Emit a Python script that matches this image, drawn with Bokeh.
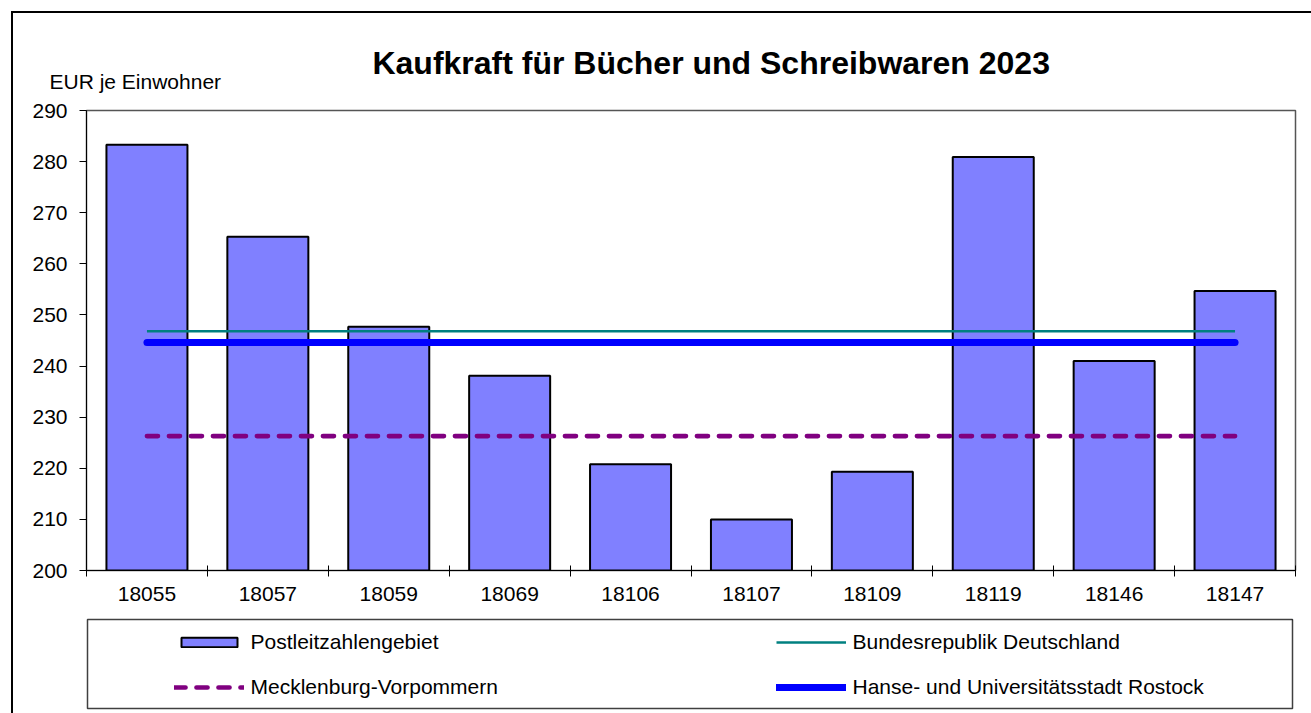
from bokeh.plotting import figure
from bokeh.layouts import column
from bokeh.models import (Range1d, LinearAxis, FixedTicker, Legend, LegendItem, Label)
from bokeh.embed import file_html
from bokeh.resources import INLINE

# ---- data -------------------------------------------------------------
categories = ["18055", "18057", "18059", "18069", "18106",
              "18107", "18109", "18119", "18146", "18147"]
kaufkraft = [283.3, 265.3, 247.7, 238.1, 220.8, 210.0, 219.3, 280.9, 241.0, 254.7]
brd_value = 246.8        # Bundesrepublik Deutschland
mv_value = 226.3         # Mecklenburg-Vorpommern
rostock_value = 244.6    # Hanse- und Universitätsstadt Rostock
y_ticks = [200, 210, 220, 230, 240, 250, 260, 270, 280, 290]
series_names = ["Postleitzahlengebiet", "Bundesrepublik Deutschland",
                "Mecklenburg-Vorpommern", "Hanse- und Universitätsstadt Rostock"]
title_text = "Kaufkraft für Bücher und Schreibwaren 2023"
y_label_text = "EUR je Einwohner"

FONT = "Liberation Sans"
BAR_FILL = "#8080FF"
C_BRD, C_ROS, C_MV = "#008080", "#0000FF", "#800080"
n = len(categories)
centers = [i + 0.5 for i in range(n)]          # category slot centres
edges = list(range(n + 1))                     # category slot boundaries
W = 1298


def blank(fig):
    fig.title.visible = False
    fig.xgrid.visible = False
    fig.ygrid.visible = False
    fig.background_fill_color = "white"
    fig.border_fill_color = "white"
    if "frame_align" in fig.properties():
        fig.frame_align = False


# ---- header (title + unit label) -------------------------------------
head = figure(width=W, height=85, x_range=Range1d(0, 1), y_range=Range1d(0, 1),
              output_backend="svg", toolbar_location=None,
              x_axis_location=None, y_axis_location=None,
              min_border_left=0, min_border_right=0, min_border_top=0, min_border_bottom=0)
blank(head)
head.outline_line_color = None
head.add_layout(Label(x=697.7, y=35.9, x_units="screen", y_units="screen", text=title_text,
                      text_align="center", text_baseline="alphabetic", text_color="black",
                      text_font=FONT, text_font_style="bold", text_font_size="32px"))
head.add_layout(Label(x=36, y=16.7, x_units="screen", y_units="screen", text=y_label_text,
                      text_align="left", text_baseline="alphabetic", text_color="black",
                      text_font=FONT, text_font_size="21px"))

# ---- main chart -------------------------------------------------------
p = figure(width=W, height=515,
           x_range=Range1d(0, n),
           y_range=Range1d(y_ticks[0], y_ticks[-1]),
           output_backend="svg", toolbar_location=None,
           x_axis_location=None, y_axis_location=None,
           min_border_left=73, min_border_right=16,
           min_border_top=12, min_border_bottom=43)
blank(p)
p.outline_line_color = "#555555"
p.outline_line_width = 1.5

yax = LinearAxis(ticker=FixedTicker(ticks=y_ticks))
yax.axis_line_color = "black"
yax.major_tick_line_color = "black"
yax.major_tick_in = 0
yax.major_tick_out = 7
yax.minor_tick_line_color = None
yax.major_label_text_font = FONT
yax.major_label_text_font_size = "21px"
yax.major_label_text_color = "black"
yax.major_label_standoff = 12
p.add_layout(yax, "left")

xax = LinearAxis(ticker=FixedTicker(ticks=centers, minor_ticks=edges))
xax.major_label_overrides = {c: lab for c, lab in zip(centers, categories)}
xax.axis_line_color = "black"
xax.major_tick_line_color = None
xax.major_tick_in = 0
xax.major_tick_out = 0
xax.minor_tick_line_color = "black"
xax.minor_tick_in = 5
xax.minor_tick_out = 6
xax.major_label_text_font = FONT
xax.major_label_text_font_size = "21px"
xax.major_label_text_color = "black"
xax.major_label_standoff = 10
p.add_layout(xax, "below")

bars = p.vbar(x=centers, top=kaufkraft, bottom=y_ticks[0], width=0.67,
              fill_color=BAR_FILL, line_color="black", line_width=2)
ends = [centers[0], centers[-1]]
p.line(x=ends, y=[brd_value, brd_value], line_color=C_BRD, line_width=2.5)
p.line(x=ends, y=[rostock_value, rostock_value], line_color=C_ROS,
       line_width=7, line_cap="round")
p.line(x=ends, y=[mv_value, mv_value], line_color=C_MV, line_width=4.7,
       line_dash="11 11", line_cap="round")

# ---- legend box --------------------------------------------------------
leg = figure(width=W, height=100, x_range=Range1d(0, 1), y_range=Range1d(0, 1),
             output_backend="svg", toolbar_location=None,
             x_axis_location=None, y_axis_location=None,
             min_border_left=74, min_border_right=19, min_border_top=6, min_border_bottom=5)
blank(leg)
leg.outline_line_color = "#404040"
leg.outline_line_width = 1.5
# legend keys: one point each, placed outside the visible range so only the key shows
off = [5]
k_bar = leg.vbar(x=off, top=off, bottom=4, width=0.5, fill_color=BAR_FILL,
                 line_color="black", line_width=2)
k_brd = leg.line(x=off, y=off, line_color=C_BRD, line_width=2.5)
k_ros = leg.line(x=off, y=off, line_color=C_ROS, line_width=7, line_cap="round")
k_mv = leg.line(x=off, y=off, line_color=C_MV, line_width=4.7, line_dash="11 11",
                line_cap="round")

legend = Legend(items=[LegendItem(label=series_names[0], renderers=[k_bar]),
                       LegendItem(label=series_names[2], renderers=[k_mv]),
                       LegendItem(label=series_names[1], renderers=[k_brd]),
                       LegendItem(label=series_names[3], renderers=[k_ros])],
                location=(86.5, 8.3), ncols=2, orientation="vertical",
                glyph_width=70, glyph_height=12, label_height=26, label_width=506,
                label_standoff=7, spacing=19, padding=0, margin=0,
                border_line_color=None, background_fill_alpha=0,
                label_text_font=FONT, label_text_font_size="21px",
                label_text_color="black")
leg.add_layout(legend, "center")

layout = column(head, p, leg, spacing=0, margin=(11, 0, 0, 11),
                styles={"border-left": "2px solid black", "border-top": "2px solid black"})

open("out.html", "w").write(file_html(layout, INLINE))
